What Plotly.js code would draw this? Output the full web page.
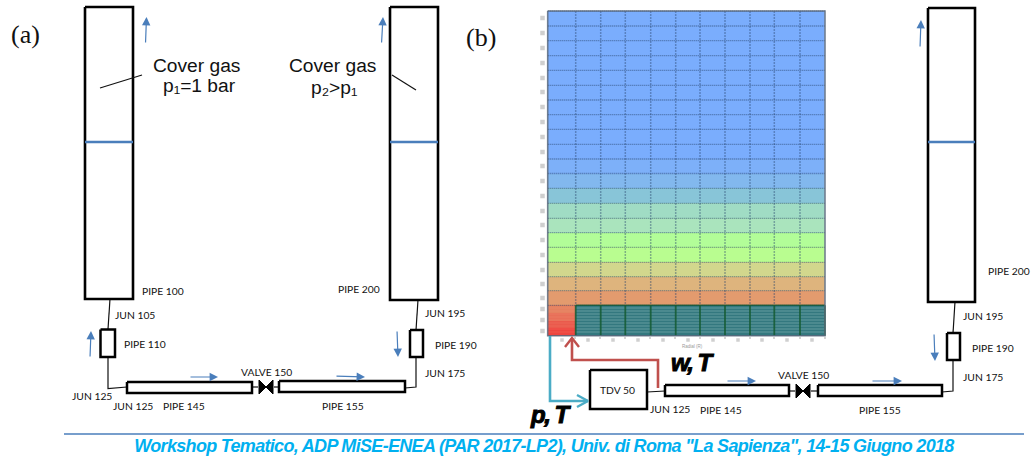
<!DOCTYPE html>
<html><head><meta charset="utf-8">
<script src="https://cdn.plot.ly/plotly-3.0.1.min.js"></script>
<style>html,body{margin:0;padding:0;background:#fff}#g{width:1032px;height:456px}</style>
</head><body><div id="g"></div>
<script>
// Colour-map grid (b)
const colEdges=[547.7,575.7,600.7,625.3,650.7,675.7,700,725,750,774.3,800,825];
const rowEdges=[11,26,40.7,55.7,70.3,85.3,100,114.7,129.3,144.3,159,173.5,188.3,203.3,218.3,232.7,247.3,262.3,276.7,290.7,305.3,313,320.5,328,335.7];
const palette=['#7aadfd','#7db0f9','#82b8ee','#88c5d8','#a0dcc4','#aae4bd','#b2fd98','#b9fd90','#d2d78d','#deb47d','#e39b6e','#e5815f','#e86f58','#ea5a4c','#ee4640','#33787f'];
const rowColour=[0,0,0,0,0,0,0,0,0,0,1,2,3,4,5,6,7,8,9,10];
const nearRedRows=[11,12,13,14];
const rowTicksLeft=[18,33,48,63,78,92,107,122,137,152,166,181,196,211,225,240,255,270,284,298,309,320,331];
const colTicksBottom=[562,588,613,638,663,688,713,738,762,787,812];
const colMinorTicks=[575,600,625,650,675,700,725,750,774,800,825];
const fineRows=[308,311,314,317,320,323,326,329,332];
// Tanks and pipes: x0,x1,y0,y1
const tankA1=[85,133,7,299], tankA2=[390,438,7,300], tankB=[928,975,8,302];
const pipeA110=[100.5,115,329.5,357], pipeA190=[410,423,330,357];
const pipeA145=[127,252,382,393], pipeA155=[279,405,381,392];
const pipeB190=[947,960,333,360], pipeB145=[665,789,385,396], pipeB155=[818,942,385,396];
const boxTDV=[590,647,370,409];
const levelLines=[[85,133,142],[390,438,142],[928,975,142]];
// Thin connectors
const connectorsX=[[110,108],[108,108,127],[252,258],[274,279],[405,416,416],[416,418],[955,953],[953,953,942],[647,665],[789,795],[811,818]];
const connectorsY=[[299,329],[357,388.5,387],[387,387],[387,387],[388,387,357],[330,300],[302,333],[360,391,392],[392,391],[391,391],[391,391]];
const leadersX=[[100,142],[392,416]];
const leadersY=[[88,75],[75,90]];
const valveX=[266,803], valveY=[387,391];
// Flow arrows: x tail, y tail, x head, y head
const flowArrows=[[145.5,44,146.5,17],[381.5,44,383,17],[90,358,91,331],[397,330,398,357],[189,377,218,377],[335,376,365,377],[920,48,921,20],[934,333,935,361],[726,381,756,381],[871,381,902,381]];
const redPathX=[658,658,572,572], redPathY=[388,360,360,338];
const cyanPathX=[550,550,588], cyanPathY=[336,401,401];
const redChevronX=[565,572,579], redChevronY=[347,338,347];
const cyanChevronX=[577,588,577], cyanChevronY=[395,401,407];
const footerRuleX=[64,1024], footerRuleY=[434,434];
// Labels: text,x,y
const smallLabels=[['PIPE 100',142,291],['JUN 105',115,315],['PIPE 110',124,344],['JUN 125',72,396],['JUN 125',113,406],['PIPE 145',163,406],['VALVE 150',241,372],['PIPE 155',322,406],['PIPE 200',338,289],['JUN 195',425,313],['PIPE 190',435,345],['JUN 175',425,373],
['TDV 50',600,390],['JUN 125',650,409],['PIPE 145',700,410],['VALVE 150',778,375],['PIPE 155',859,410],['JUN 175',963,377],['PIPE 190',972,348],['JUN 195',963,316],['PIPE 200',988,271]];
const coverLabels=[['Cover gas',196,65],['p\u2081=1 bar',199,85],['Cover gas',332,65],['p\u2082>p\u2081',334,87]];
const panelLabels=[['(a)',10,34],['(b)',465,37]];
const boldLabels=[['w, T',670,362],['p, T',529,414]];
const footerText='Workshop Tematico, ADP MiSE-ENEA (PAR 2017-LP2), Univ. di Roma "La Sapienza", 14-15 Giugno 2018';
const radialLabel='Radial (R)';

const BLUE='#4a7ebb', INK='#000';
const traces=[];
const line=(x,y,color,width,dash)=>traces.push({type:'scatter',mode:'lines',x,y,hoverinfo:'skip',line:{color,width,dash:dash||'solid',simplify:false},showlegend:false});
const box=(r,w)=>traces.push({type:'scatter',mode:'lines',x:[r[0],r[1],r[1],r[0],r[0]],y:[r[2],r[2],r[3],r[3],r[2]],fill:'toself',fillcolor:'#fff',hoverinfo:'skip',line:{color:INK,width:w},showlegend:false});

connectorsX.forEach((x,i)=>line(x,connectorsY[i],'#111',1.2));
[tankA1,tankA2,tankB].forEach(r=>box(r,2.6));
[pipeA110,pipeA190,pipeA145,pipeA155,pipeB190,pipeB145,pipeB155].forEach(r=>box(r,2.5));
box(boxTDV,2.5);
levelLines.forEach(l=>line([l[0],l[1]],[l[2],l[2]],BLUE,2.5));
leadersX.forEach((x,i)=>line(x,leadersY[i],'#111',1.2));

// colour map
const nCols=colEdges.length-1;
const colourIndex=palette.indexOf('#33787f');
const z=[];
rowColour.forEach(c=>z.push(Array(nCols).fill(c)));
nearRedRows.forEach(c=>z.push([c].concat(Array(nCols-1).fill(colourIndex))));
traces.push({type:'heatmap',x:colEdges,y:rowEdges,z,zmin:0,zmax:palette.length-1,showscale:false,hoverinfo:'skip',zsmooth:false,
  colorscale:palette.map((c,i)=>[i/(palette.length-1),c])});
// grid
const gridTop=rowEdges[0], bandBottom=rowEdges[20], gridBottom=rowEdges[rowEdges.length-1];
const xL=colEdges[0], xR=colEdges[nCols];
rowEdges.slice(0,21).forEach(y=>line([xL,xR],[y,y],'rgba(40,70,110,0.62)',1.3,'1px 1px'));
colEdges.slice(1,-1).forEach(x=>line([x,x],[gridTop,bandBottom],'rgba(40,70,110,0.42)',1.5,'2px 1px'));
fineRows.forEach(y=>line([colEdges[1],xR],[y,y],'rgba(190,225,220,0.35)',1));
fineRows.forEach(y=>line([xL,colEdges[1]],[y,y],'rgba(255,190,160,0.14)',1));
colEdges.slice(1).forEach(x=>line([x,x],[bandBottom,gridBottom],'rgba(20,90,50,0.85)',1.8));
line([colEdges[1],xR],[bandBottom,bandBottom],'rgba(20,90,50,0.75)',1.5);
line([xL,xR,xR,xL,xL],[gridTop,gridTop,gridBottom,gridBottom,gridTop],'rgba(90,105,125,0.85)',1.6);
// blurred axis ticks
traces.push({type:'scatter',mode:'markers',x:rowTicksLeft.map(()=>542.5),y:rowTicksLeft,hoverinfo:'skip',showlegend:false,marker:{symbol:'square',size:4.5,color:'#cfcfcf'}});
traces.push({type:'scatter',mode:'markers',x:colTicksBottom,y:colTicksBottom.map(()=>340),hoverinfo:'skip',showlegend:false,marker:{symbol:'square',size:3.5,color:'#d0d0d0'}});
traces.push({type:'scatter',mode:'markers',x:colMinorTicks,y:colMinorTicks.map(()=>338),hoverinfo:'skip',showlegend:false,marker:{symbol:'square',size:2,color:'#d4d4d4'}});

// feed paths
line(redPathX,redPathY,'#c0504d',2.6);
line(redChevronX,redChevronY,'#c0504d',2.4);
line(cyanPathX,cyanPathY,'#4bacc6',2.6);
line(cyanChevronX,cyanChevronY,'#4bacc6',2.4);
line(footerRuleX,footerRuleY,BLUE,1.6);
// valves
traces.push({type:'scatter',mode:'markers',x:valveX,y:valveY,hoverinfo:'skip',showlegend:false,marker:{symbol:'bowtie',size:14,color:'#000',line:{color:'#000',width:1}}});

const annos=[];
const label=(t,x,y,size,family,color,anchor)=>annos.push({x,y,text:t,showarrow:false,xref:'x',yref:'y',xanchor:anchor||'left',yanchor:'middle',align:anchor||'left',borderpad:0,
   font:{size,family,color}});
smallLabels.forEach(l=>label(l[0],l[1]-1,l[2],10.3,'Lato','#111'));
coverLabels.forEach(l=>label(l[0],l[1],l[2],19.2,'Liberation Sans','#111','center'));
panelLabels.forEach(l=>label(l[0],l[1],l[2],26,'Liberation Serif','#111'));
boldLabels.forEach(l=>label('<b><i>'+l[0]+'</i></b>',l[1],l[2],24,'Liberation Sans','#000'));
label('<b><i>'+footerText+'</i></b>',543.5,446,18,'Liberation Sans','#00b0f0','center');
label(radialLabel,692,346,4.5,'Liberation Sans','#999','center');
flowArrows.forEach(a=>annos.push({x:a[2],y:a[3],ax:a[0],ay:a[1],xref:'x',yref:'y',axref:'x',ayref:'y',text:'',showarrow:true,arrowhead:2,arrowsize:1.4,arrowwidth:1.2,arrowcolor:BLUE,standoff:0,startstandoff:0}));

Plotly.newPlot('g',traces,{
  width:1032,height:456,margin:{l:0,r:0,t:0,b:0},paper_bgcolor:'#fff',plot_bgcolor:'#fff',showlegend:false,
  xaxis:{range:[0,1032],visible:false,fixedrange:true},
  yaxis:{range:[456,0],visible:false,fixedrange:true},
  annotations:annos
},{displayModeBar:false,staticPlot:true}).then(gd=>{
  gd.querySelectorAll('.annotation-text').forEach(t=>{
    if(t.textContent.startsWith('Workshop')) t.style.letterSpacing='-0.68px';
    if(t.textContent==='w, T'||t.textContent==='p, T'){t.style.letterSpacing='-1.5px';t.style.stroke='#000';t.style.strokeWidth='1px';}
  });
});
</script></body></html>
